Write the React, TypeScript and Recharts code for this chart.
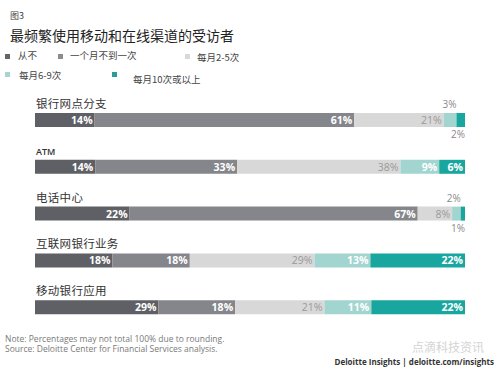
import React from "react";
import { BarChart, Bar, XAxis, YAxis, LabelList } from "recharts";

const channels = ["银行网点分支", "ATM", "电话中心", "互联网银行业务", "移动银行应用"];
const never = [14, 14, 22, 18, 29];
const lessMonthly = [61, 33, 67, 18, 18];
const twoToFive = [21, 38, 8, 29, 21];
const sixToNine = [3, 9, 2, 13, 11];
const tenPlus = [2, 6, 1, 22, 22];

const seriesKeys = ["never", "lessMonthly", "twoToFive", "sixToNine", "tenPlus"];
const seriesNames = ["从不", "一个月不到一次", "每月2-5次", "每月6-9次", "每月10次或以上"];
const barColors = ["#5f6065", "#85868b", "#d8d8d8", "#a2d5d0", "#19a69f"];
const legendColors = ["#666666", "#8c8c8c", "#d9d9d9", "#a8d5d2", "#2a9d96"];
const labelColors = ["#ffffff", "#ffffff", "#9a9a9a", "#ffffff", "#ffffff"];

const data = channels.map((name, i) => ({
  name,
  never: never[i],
  lessMonthly: lessMonthly[i],
  twoToFive: twoToFive[i],
  sixToNine: sixToNine[i],
  tenPlus: tenPlus[i],
}));

const CJK = "'Noto Sans CJK SC', 'Noto Sans', sans-serif";
const LATIN = "'Open Sans', 'Noto Sans', sans-serif";

// legend placement (square x/y, text x/center y)
const legendPos = [
  { x: 5, y: 54, tx: 18, ty: 55 },
  { x: 58, y: 54, tx: 70, ty: 55 },
  { x: 185, y: 54, tx: 197, ty: 57 },
  { x: 5, y: 72, tx: 19, ty: 75 },
  { x: 112, y: 72, tx: 133, ty: 79 },
];

const makeValueLabel = (idx: number) => (props: any) => {
  const { x, y, width, height, value } = props;
  const right = x + width;
  if (value < 5) {
    // small segments get their label outside the bar
    const above = idx === 3;
    return (
      <text
        x={right}
        y={above ? y - 5 : y + height + 11}
        textAnchor="end"
        fill="#8a8a8a"
        fontSize={10}
        fontFamily={LATIN}
      >
        {value}%
      </text>
    );
  }
  return (
    <text
      x={right - 2}
      y={y + height / 2 + 4}
      textAnchor="end"
      fill={labelColors[idx]}
      fontSize={10.5}
      fontWeight={idx === 2 ? 400 : 700}
      fontFamily={LATIN}
    >
      {value}%
    </text>
  );
};

const CategoryLabel = (props: any) => {
  const { x, y, value } = props;
  const isLatin = value === "ATM";
  return (
    <text
      x={x + 1}
      y={y - 5}
      fill="#333"
      fontSize={isLatin ? 9 : 11.5}
      fontWeight={isLatin ? 600 : 400}
      fontFamily={isLatin ? LATIN : CJK}
      letterSpacing={isLatin ? 0 : 0.3}
    >
      {value}
    </text>
  );
};

export default function App() {
  return (
    <div
      style={{
        position: "absolute",
        left: 0,
        top: 0,
        width: 500,
        height: 375,
        background: "#fff",
        fontFamily: CJK,
        overflow: "hidden",
      }}
    >
      <div style={{ position: "absolute", left: 10, top: 9, fontSize: 9, color: "#444" }}>图3</div>
      <div style={{ position: "absolute", left: 10, top: 25, fontSize: 14, color: "#222", lineHeight: "20px" }}>
        最频繁使用移动和在线渠道的受访者
      </div>

      {seriesNames.map((n, i) => (
        <React.Fragment key={n}>
          <div
            style={{
              position: "absolute",
              left: legendPos[i].x,
              top: legendPos[i].y,
              width: 5,
              height: 5,
              background: legendColors[i],
            }}
          />
          <div
            style={{
              position: "absolute",
              left: legendPos[i].tx,
              top: legendPos[i].ty - 7,
              fontSize: 9.5,
              color: "#444",
              lineHeight: "14px",
              whiteSpace: "nowrap",
            }}
          >
            {n}
          </div>
        </React.Fragment>
      ))}

      <div style={{ position: "absolute", left: 0, top: 0 }}>
        <BarChart
          width={500}
          height={375}
          data={data}
          layout="vertical"
          stackOffset="expand"
          barSize={14}
          margin={{ top: 97, right: 35, bottom: 44, left: 35 }}
        >
          <XAxis type="number" hide domain={[0, 1]} />
          <YAxis type="category" dataKey="name" hide />
          {seriesKeys.map((k, i) => (
            <Bar key={k} dataKey={k} stackId="a" fill={barColors[i]} isAnimationActive={false}>
              <LabelList dataKey={k} content={makeValueLabel(i)} />
              {i === 0 && <LabelList dataKey="name" content={<CategoryLabel />} />}
            </Bar>
          ))}
        </BarChart>
      </div>

      <div
        style={{
          position: "absolute",
          left: 5,
          top: 334,
          fontSize: 8.5,
          lineHeight: "10px",
          color: "#7a7a7a",
          fontFamily: LATIN,
        }}
      >
        <div>Note: Percentages may not total 100% due to rounding.</div>
        <div>Source: Deloitte Center for Financial Services analysis.</div>
      </div>
      <div
        style={{
          position: "absolute",
          left: 412,
          top: 340,
          fontSize: 12,
          lineHeight: "14px",
          color: "#d4d4d4",
          whiteSpace: "nowrap",
        }}
      >
        点滴科技资讯
      </div>
      <div
        style={{
          position: "absolute",
          right: 6,
          top: 356,
          fontSize: 8,
          fontWeight: 700,
          color: "#333",
          fontFamily: LATIN,
          whiteSpace: "nowrap",
        }}
      >
        Deloitte Insights | deloitte.com/insights
      </div>
    </div>
  );
}
